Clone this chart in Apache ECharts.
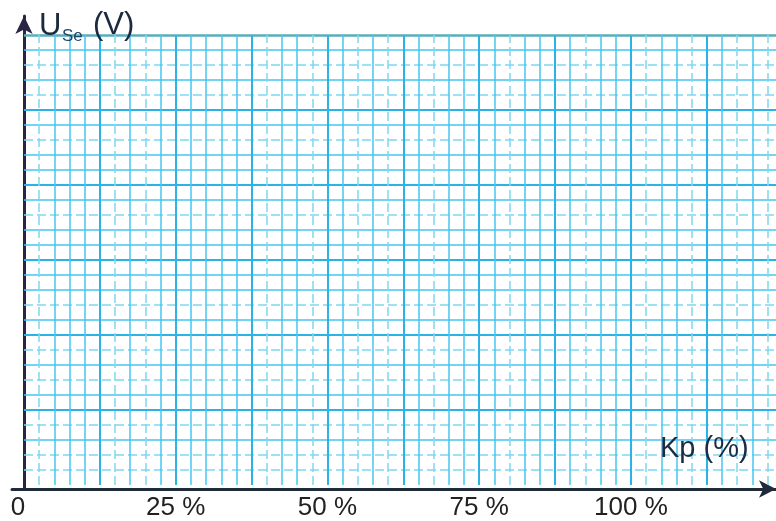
<!DOCTYPE html>
<html>
<head>
<meta charset="utf-8">
<script src="https://cdn.jsdelivr.net/npm/echarts@6/dist/echarts.min.js"></script>
<style>
html,body{margin:0;padding:0;background:#fff;}
#c{width:776px;height:521px;}
</style>
</head>
<body>
<div id="c"></div>
<script>
// ---- data ----
var xTickValues = [0, 25, 50, 75, 100];
var xTickLabels = ['0', '25 %', '50 %', '75 %', '100 %'];
var xMinorStep = 2.5;            // one small square on the x axis (%)
var xMajorEvery = 5;             // a darker line every 5 squares
var xMax = 123.9;
var yMax = 30;                   // 30 small squares high
var yMajorEvery = 5;
// grid lines that appear lighter / dashed in the reference (index of small square)
var xDashedIdx = [1, 6, 8, 16, 19, 22, 24, 27, 32, 37, 41, 44, 47, 49];
var yDashedIdx = [1, 2, 4, 7, 9, 12, 18, 23, 26, 28];
var xAxisTitle = 'Kp (%)';
var yAxisTitleMain = 'U';
var yAxisTitleSub = 'Se';
var yAxisTitleUnit = '(V)';

// ---- build grid line lists ----
var minorCol = '#45c6ef', majorCol = '#2ab3e4', dashCol = '#7fd7f2';
var vLines = [], hLines = [];
var nX = Math.floor(xMax / xMinorStep);
for (var i = 1; i <= nX; i++) {
  var st;
  if (i % xMajorEvery === 0) st = {color: majorCol, width: 2, type: 'solid'};
  else if (xDashedIdx.indexOf(i) >= 0) st = {color: dashCol, width: 1.5, type: [9, 4]};
  else st = {color: minorCol, width: 1.5, type: 'solid'};
  vLines.push({xAxis: i * xMinorStep, lineStyle: st});
}
for (var j = 1; j <= yMax; j++) {
  var st2;
  if (j === yMax) st2 = {color: '#5aaebb', width: 2.5, type: 'solid'};
  else if (j % yMajorEvery === 0) st2 = {color: majorCol, width: 2, type: 'solid'};
  else if (yDashedIdx.indexOf(j) >= 0) st2 = {color: dashCol, width: 1.5, type: [9, 4]};
  else st2 = {color: minorCol, width: 1.5, type: 'solid'};
  hLines.push({yAxis: j, lineStyle: st2});
}

var chart = echarts.init(document.getElementById('c'), null, {renderer: 'canvas'});
var pxPerPct = 752 / xMax;
var axMin = -12 / pxPerPct;
var axMax = (776 - 12) / pxPerPct + axMin;
var yAxMax = (489 - 16) / (454 / yMax);

chart.setOption({
  animation: false,
  backgroundColor: '#ffffff',
  grid: [
    {left: 24, right: 0, top: 35, bottom: 32},
    {left: 12, right: 0, top: 16, bottom: 32}
  ],
  xAxis: [
    {
      gridIndex: 0, type: 'value', min: 0, max: xMax, interval: 25,
      axisLine: {show: false}, axisTick: {show: false}, splitLine: {show: false},
      axisLabel: {
        show: true, margin: 10, showMaxLabel: false,
        color: '#222222', fontFamily: 'Liberation Sans, Arial, sans-serif', fontSize: 26,
        formatter: function (v) {
          var k = xTickValues.indexOf(v);
          if (k < 0) return '';
          if (k === 0) return '{z|' + xTickLabels[k] + '}';
          return xTickLabels[k];
        },
        rich: {z: {fontSize: 26, color: '#222222', fontFamily: 'Liberation Sans, Arial, sans-serif', padding: [0, 12, 0, 0]}}
      }
    },
    {
      gridIndex: 1, type: 'value', min: axMin, max: axMax,
      axisLine: {show: true, onZero: true, symbol: ['none', 'arrow'], symbolSize: [13, 17],
        lineStyle: {color: '#1f2a3a', width: 3}},
      axisTick: {show: false}, axisLabel: {show: false}, splitLine: {show: false}
    }
  ],
  yAxis: [
    {
      gridIndex: 0, type: 'value', min: 0, max: yMax,
      axisLine: {show: false}, axisTick: {show: false}, axisLabel: {show: false}, splitLine: {show: false}
    },
    {
      gridIndex: 1, type: 'value', min: 0, max: yAxMax,
      axisLine: {show: true, onZero: true, symbol: ['none', 'arrow'], symbolSize: [13, 18],
        lineStyle: {color: '#2a2545', width: 3}},
      axisTick: {show: false}, axisLabel: {show: false}, splitLine: {show: false}
    }
  ],
  series: [
    {
      type: 'line', xAxisIndex: 0, yAxisIndex: 0, data: [], silent: true, z: 1,
      markLine: {silent: true, symbol: ['none', 'none'], label: {show: false}, animation: false,
        data: hLines}
    },
    {
      type: 'line', xAxisIndex: 0, yAxisIndex: 0, data: [], silent: true, z: 1,
      markLine: {silent: true, symbol: ['none', 'none'], label: {show: false}, animation: false,
        data: vLines}
    }
  ],
  graphic: [
    {type: 'text', left: 39, top: 11, z: 100,
      style: {text: yAxisTitleMain, font: '31px "Liberation Sans", Arial, sans-serif', fill: '#1b2a3e'}},
    {type: 'text', left: 62, top: 28, z: 100,
      style: {text: yAxisTitleSub, font: '17px "Liberation Sans", Arial, sans-serif', fill: '#1e4563'}},
    {type: 'text', left: 93, top: 10, z: 100,
      style: {text: yAxisTitleUnit, font: '31px "Liberation Sans", Arial, sans-serif', fill: '#1b2a3e'}},
    {type: 'text', left: 660, top: 434, z: 100,
      style: {text: xAxisTitle, font: '29px "Liberation Sans", Arial, sans-serif', fill: '#1b2a45'}}
  ]
});
</script>
</body>
</html>
